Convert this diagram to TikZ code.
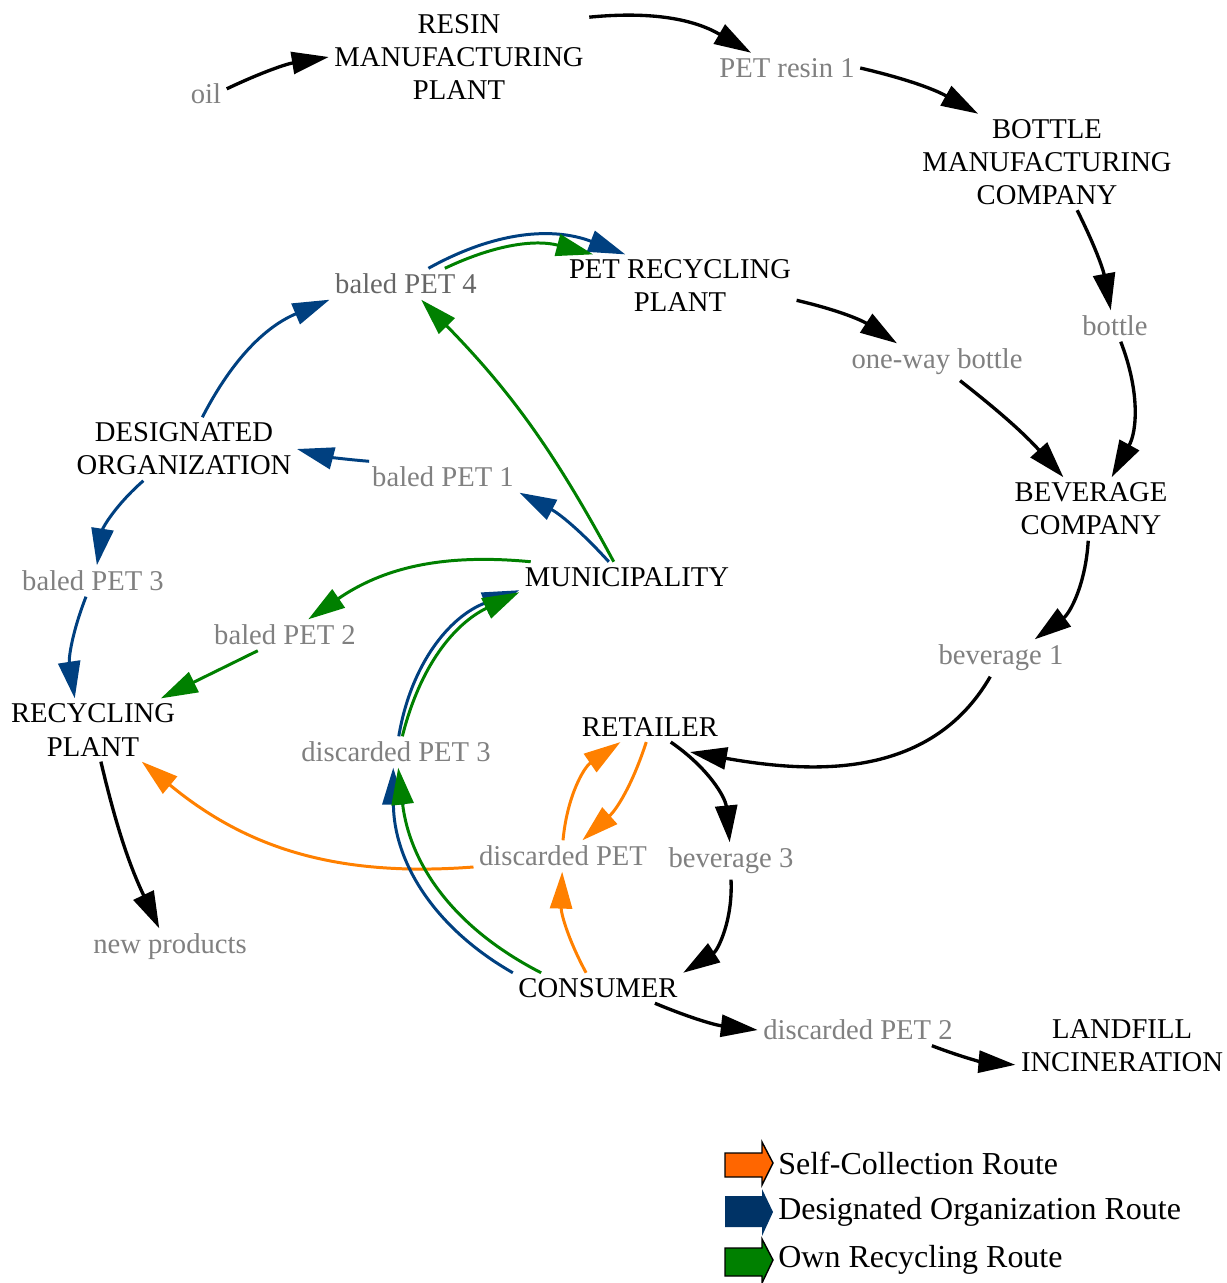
\documentclass[tikz,border=0pt]{standalone}
\usepackage{fontspec}
\setmainfont{Liberation Serif}
\usetikzlibrary{arrows.meta}
\definecolor{varcol}{RGB}{128,128,128}
\definecolor{selfcol}{RGB}{255,128,0}
\definecolor{desigcol}{RGB}{0,64,128}
\definecolor{owncol}{RGB}{0,128,0}
\definecolor{selfleg}{RGB}{255,102,0}
\definecolor{desigleg}{RGB}{0,51,102}

\begin{document}
\begin{tikzpicture}[
            x=0.02cm, y=-0.02cm,
            every node/.style={font=\fontsize{16.3}{18.8}\selectfont, align=center, inner sep=3pt}, % all texts
            var/.style={text=varcol}, % variables in grey
            legtext/.style={anchor=west, inner sep=0pt, font=\fontsize{18.2}{21}\selectfont},
            flow/.style={-{Triangle[length=21pt,width=12.5pt]}, line width=1.9pt},
            self/.style={flow, draw=selfcol, line width=1.7pt},
            desig/.style={flow, draw=desigcol, line width=1.7pt},
            own/.style={flow, draw=owncol, line width=1.7pt}
            ]
        \useasboundingbox (0,0) rectangle (1226,1283);

        % actors and variables
        \node[var] (oil) at (206,94) {oil};
        \node (resin) at (459,57) {RESIN\\MANUFACTURING\\PLANT};
        \node[var] (petresin) at (787,68) {PET resin 1};
        \node (bottleco) at (1047,162) {BOTTLE\\MANUFACTURING\\COMPANY};
        \node[var] (bottle) at (1115,326) {bottle};
        \node (petrec) at (680,286) {PET RECYCLING\\PLANT};
        \node[var, text=black!60] (bpet4) at (406,284) {baled PET 4};
        \node[var] (oneway) at (937,362) {one-way bottle};
        \node (desorg) at (184,449) {DESIGNATED\\ORGANIZATION};
        \node[var] (bpet1) at (443,477) {baled PET 1};
        \node (bevco) at (1091,509) {BEVERAGE\\COMPANY};
        \node[var] (bpet3) at (93,581) {baled PET 3};
        \node (muni) at (627,577) {MUNICIPALITY};
        \node[var] (bpet2) at (285,635) {baled PET 2};
        \node[var] (bev1) at (1001,658) {beverage 1};
        \node (recplant) at (93,730) {RECYCLING\\PLANT};
        \node (retailer) at (650,727) {RETAILER};
        \node[var] (dpet3) at (396,752) {discarded PET 3};
        \node[var] (dpet) at (563,856) {discarded PET};
        \node[var] (bev3) at (731,861) {beverage 3};
        \node[var] (newprod) at (170,947) {new products};
        \node (consumer) at (598,988) {CONSUMER};
        \node[var] (dpet2) at (858,1030) {discarded PET 2};
        \node (landfill) at (1122,1046) {LANDFILL\\INCINERATION};

        % main chain
        \draw[flow] (oil.14) to[bend left=8] (resin.west);
        \draw[flow] (resin.17) to[bend left=18] (petresin.157);
        \draw[flow] (petresin.east) to[bend left=8] (bottleco.145);
        \draw[flow] (bottleco.-58) to[bend left=8] (bottle.105);
        \draw[flow] (bottle.-70) to[bend left=25] (bevco.57);
        \draw[flow] (petrec.-7) to[bend left=10] (oneway.155);
        \draw[flow] (oneway.-39) to[bend left=5] (bevco.131);
        \draw[flow] (bevco.-95) to[bend left=25] (bev1.29);
        \draw[flow] (bev1.-120) to[out=-120, in=-10] ([shift={(40,25)}]retailer.center);
        \draw[flow] (retailer.-36) to[bend left=25] (bev3.94);
        \draw[flow] (bev3.south) to[bend left=30] (consumer.north east);
        \draw[flow] (consumer.-15) to[bend right=8] (dpet2.west);
        \draw[flow] (dpet2.-12) to[bend right=8] (landfill.-170);
        \draw[flow] (recplant.-76) to[bend right=6] (newprod.120);

        % self-collection route
        \draw[self] (dpet.north) to[bend left=25] (retailer.-153);
        \draw[self] (retailer.-104) to[bend left=15] (dpet.39);
        \draw[self] (consumer.128) to[bend left=15] (dpet.-93);
        \draw[self] (dpet.-173) to[bend left=22] (recplant.-33);

        % designated organization route
        \draw[desig] (consumer.north west) to[bend left=30] (dpet3.-100);
        \draw[desig] (dpet3.80) to[bend left=30] (muni.-173);
        \draw[desig] (muni.140) to[bend right=10] (bpet1.south east);
        \draw[desig] (bpet1.168) to[bend left=5] (desorg.east);
        \draw[desig] (desorg.60) to[bend left=20] (bpet4.south west);
        \draw[desig] (desorg.-142) to[bend right=20] (bpet3.76);
        \draw[desig] (bpet3.-114) to[bend right=15] (recplant.120);
        \draw[desig] (bpet4.35) to[bend left=25] (petrec.150);

        % own recycling route
        \draw[own] (consumer.165) to[bend left=28] (dpet3.-82);
        \draw[own] (dpet3.68) to[bend left=25] (muni.south west);
        \draw[own] (muni.171) to[bend right=20] (bpet2.34);
        \draw[own] (bpet2.-150) -- (recplant.25);
        \draw[own] (muni.131) to[bend right=8] (bpet4.-46);
        \draw[own] (bpet4.22) to[bend left=20] (petrec.160);

        % legend
        \draw[fill=selfleg, line width=0.8pt] (725,1153) -- (762,1153) -- (762,1142) -- (773,1163) -- (762,1185) -- (762,1177) -- (725,1177) -- cycle;
        \fill[desigleg] (725,1196) -- (762,1196) -- (762,1189) -- (773,1212) -- (762,1236) -- (762,1227) -- (725,1227) -- cycle;
        \draw[fill=owncol, line width=0.8pt] (725,1248) -- (762,1248) -- (762,1239) -- (773,1260) -- (762,1283) -- (762,1276) -- (725,1276) -- cycle;
        \node[legtext] (legself) at (778,1163) {Self-Collection Route};
        \node[legtext] (legdesig) at (778,1212) {Designated Organization Route};
        \node[legtext] (legown) at (778,1260) {Own Recycling Route};

    \end{tikzpicture}
\end{document}
